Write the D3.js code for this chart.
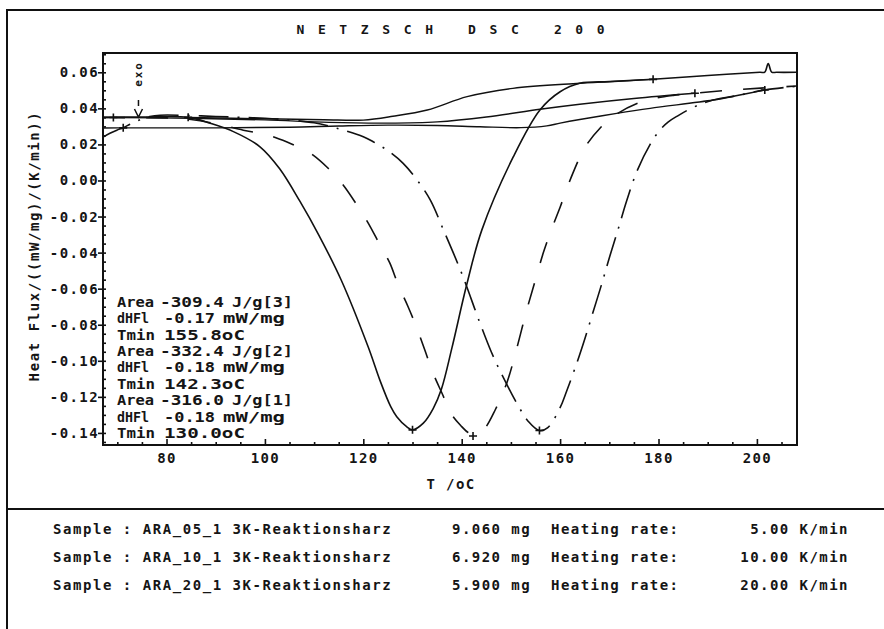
<!DOCTYPE html>
<html>
<head>
<meta charset="utf-8">
<script src="https://cdn.jsdelivr.net/npm/d3@7/dist/d3.min.js"></script>
<style>
  body { margin: 0; background: #fff; }
  svg text { font-family: "DejaVu Sans Mono", monospace; font-weight: bold; fill: #151515; }
</style>
</head>
<body>
<div id="dsc_plot"></div>
<script>

// 5 K/min run (solid line)
var t05 = [67.1, 75, 84.4, 88.9, 93.6, 99, 103, 107.1, 110.9, 115.5, 121, 123.4, 125.6, 126.8, 128.8, 130, 132.2, 134.2, 135.9, 138, 141, 144.1, 150.5, 155.9, 160, 164, 170, 178.9, 190, 200.6, 201.6, 202.3, 203.0, 204, 208.1],
  hf05 = [0.0350, 0.0352, 0.0350, 0.0317, 0.0271, 0.0187, 0.0065, -0.0115, -0.0300, -0.0552, -0.0924, -0.1110, -0.1256, -0.1310, -0.1365, -0.1383, -0.1346, -0.1265, -0.1155, -0.0930, -0.0580, -0.0274, 0.0132, 0.0391, 0.0492, 0.0539, 0.0548, 0.0561, 0.0582, 0.0600, 0.0601, 0.0648, 0.0601, 0.0600, 0.0600];

// 10 K/min run (dashed)
var t10 = [67.1, 69.2, 80, 85, 90, 95.6, 100.5, 104.5, 107.2, 109.2, 112.8, 115.9, 118.7, 121, 123.4, 125.4, 127.1, 129.1, 130.9, 132.5, 134.2, 136, 138, 140, 141.3, 142.3, 143.5, 144.7, 146.8, 149.2, 151.2, 153.2, 155, 156.6, 158, 160, 162.6, 165.1, 168.1, 171.2, 175.9, 179.7, 183, 187.4, 195, 208.1],
  hf10 = [0.0350, 0.0349, 0.0347, 0.0338, 0.0315, 0.0279, 0.0252, 0.0213, 0.0180, 0.0152, 0.0069, -0.0025, -0.0136, -0.0236, -0.0358, -0.0458, -0.0580, -0.0700, -0.0820, -0.0940, -0.1070, -0.1180, -0.1300, -0.1365, -0.1398, -0.1405, -0.1395, -0.1374, -0.1273, -0.1120, -0.0930, -0.0720, -0.0550, -0.0400, -0.0290, -0.0148, 0.0041, 0.0186, 0.0290, 0.0363, 0.0430, 0.0458, 0.0472, 0.0484, 0.0502, 0.0524];

// 20 K/min run (dash-dot)
var t20 = [67.1, 68.5, 69.9, 71.2, 72.6, 74.0, 76.6, 78.7, 85, 90, 100, 105, 110, 114.6, 120, 122, 125, 128.1, 131, 133.6, 136.3, 140, 143.7, 146, 148.5, 151.5, 153.5, 155.8, 157.5, 160, 161.3, 163.3, 165, 166.7, 168.5, 170.1, 171.8, 173.5, 175.6, 178.3, 180.3, 182, 184, 186.5, 189, 191.1, 196, 201.6, 208.1],
  hf20 = [0.0241, 0.0262, 0.0279, 0.0293, 0.0312, 0.0330, 0.0354, 0.0362, 0.0360, 0.0355, 0.0345, 0.0335, 0.0320, 0.0290, 0.0243, 0.0215, 0.0165, 0.0095, 0.0000, -0.0108, -0.0275, -0.0515, -0.0790, -0.0950, -0.1095, -0.1250, -0.1335, -0.1387, -0.1370, -0.1260, -0.1170, -0.1020, -0.0880, -0.0730, -0.0570, -0.0420, -0.0270, -0.0115, 0.0050, 0.0200, 0.0280, 0.0325, 0.0360, 0.0398, 0.0428, 0.0446, 0.0471, 0.0502, 0.0522];

// integration baselines
var bt05 = [84.4, 100, 112, 120, 126, 133, 141.1, 150.4, 164, 178.9],
  bhf05 = [0.0350, 0.0342, 0.0337, 0.0335, 0.0356, 0.0391, 0.0465, 0.0511, 0.0539, 0.0561];
var bt10 = [69.2, 85, 100, 113, 125, 135, 145, 155.9, 164, 175, 187.4],
  bhf10 = [0.0349, 0.0345, 0.0336, 0.0322, 0.0318, 0.0325, 0.0352, 0.0395, 0.0423, 0.0455, 0.0484];
var bt20 = [67.1, 71.2, 90, 105, 115, 125, 135, 143.7, 152, 157.3, 160, 164, 171.5, 178.3, 191.1, 196, 201.6],
  bhf20 = [0.0291, 0.0292, 0.0292, 0.0295, 0.0302, 0.0307, 0.0305, 0.0298, 0.0293, 0.0303, 0.0318, 0.0338, 0.0372, 0.0400, 0.0446, 0.0471, 0.0502];

// "+" marks: limits and peak minima
var markT = [69.2, 71.2, 84.4, 130.0, 142.3, 155.8, 178.9, 187.4, 201.6],
  markHF = [0.0349, 0.0292, 0.0350, -0.1383, -0.1417, -0.1387, 0.0561, 0.0484, 0.0502];

// peak evaluation text, listed top to bottom
var areaVals = ["-309.4", "-332.4", "-316.0"],
  areaRefs = ["[3]", "[2]", "[1]"],
  dhflVals = ["-0.17", "-0.18", "-0.18"],
  tminVals = ["155.8oC", "142.3oC", "130.0oC"];

// sample table
var sampleIds = ["ARA_05_1", "ARA_10_1", "ARA_20_1"],
  sampleMasses = ["9.060", "6.920", "5.900"],
  heatRates = ["5.00", "10.00", "20.00"];

// axis ticks
var xMajor = [80, 100, 120, 140, 160, 180, 200],
  xMinor = [70, 75, 85, 90, 95, 105, 110, 115, 125, 130, 135, 145, 150, 155, 165, 170, 175, 185, 190, 195, 205],
  yMajor = [0.06, 0.04, 0.02, 0.00, -0.02, -0.04, -0.06, -0.08, -0.10, -0.12, -0.14],
  yMinor = d3.range(-29, 15).map(function(i) { return i * 0.005; });

var exoT = 74.3;


var margin = {top: 53, right: 87, bottom: 184, left: 103},
  width = 884 - margin.left - margin.right,
  height = 629 - margin.top - margin.bottom;

var svg = d3.select("#dsc_plot")
  .append("svg")
  .attr("width", 884)
  .attr("height", 629);

// outer frame of the printout
svg.append("path")
  .attr("d", "M7,629 L7,10 L884,10")
  .attr("fill", "none")
  .attr("stroke", "#111")
  .attr("stroke-width", 2);
svg.append("line")
  .attr("x1", 7).attr("x2", 884)
  .attr("y1", 509).attr("y2", 509)
  .attr("stroke", "#111")
  .attr("stroke-width", 2);

svg.append("text")
  .attr("x", 452)
  .attr("y", 33.5)
  .attr("text-anchor", "middle")
  .style("white-space", "pre")
  .style("font-size", "13px")
  .style("letter-spacing", "2.9px")
  .text("N E T Z S C H   D S C   2 0 0");

var g = svg.append("g")
  .attr("transform", "translate(" + margin.left + "," + margin.top + ")");

var x = d3.scaleLinear()
  .domain([67.09, 208.15])
  .range([0, width]);
var y = d3.scaleLinear()
  .domain([-0.1467, 0.0707])
  .range([height, 0]);

var fmt = d3.formatLocale({decimal: ".", thousands: ",", grouping: [3], currency: ["", ""], minus: "-"}).format(".2f");

// axes
g.append("g")
  .attr("transform", "translate(0," + height + ")")
  .call(d3.axisBottom(x).tickValues(xMajor).tickSize(-6).tickPadding(8).tickFormat(d3.format("d")));
g.append("g")
  .attr("transform", "translate(0," + height + ")")
  .call(d3.axisBottom(x).tickValues(xMinor).tickSize(-3).tickFormat(""));
g.append("g")
  .call(d3.axisLeft(y).tickValues(yMajor).tickSize(5).tickPadding(-1).tickFormat(fmt));
g.append("g")
  .call(d3.axisRight(y).tickValues(yMinor).tickSize(3).tickFormat(""));

g.selectAll(".domain").remove();
g.selectAll(".tick line").attr("stroke", "#111").attr("stroke-width", 1.6);
g.selectAll(".tick text")
  .attr("font-family", null)
  .style("font-size", "14px")
  .style("letter-spacing", "1.4px");

g.append("rect")
  .attr("width", width)
  .attr("height", height)
  .attr("fill", "none")
  .attr("stroke", "#111")
  .attr("stroke-width", 2);

// axis labels
svg.append("text")
  .attr("x", 451)
  .attr("y", 489)
  .attr("text-anchor", "middle")
  .style("white-space", "pre")
  .style("font-size", "14px")
  .style("letter-spacing", "1.4px")
  .text("T /oC");
svg.append("text")
  .attr("text-anchor", "middle")
  .attr("transform", "translate(38.5,246)rotate(-90)")
  .style("font-size", "14px")
  .style("letter-spacing", "1.6px")
  .text("Heat Flux/((mW/mg)/(K/min))");


// curves
g.append("clipPath")
  .attr("id", "plotclip")
  .append("rect")
  .attr("width", width)
  .attr("height", height);

var line = d3.line()
  .x(function(d) { return x(d[0]); })
  .y(function(d) { return y(d[1]); })
  .curve(d3.curveCatmullRom.alpha(0.5));

var zipData = function(tt, hh) {
  return tt.map(function(t, i) { return [t, hh[i]]; });
}

var series = [
  {t: bt05, h: bhf05, dash: null, w: 1.4},
  {t: bt10, h: bhf10, dash: null, w: 1.4},
  {t: bt20, h: bhf20, dash: null, w: 1.4},
  {t: t05, h: hf05, dash: null, w: 1.6},
  {t: t10, h: hf10, dash: "22,21", w: 1.6},
  {t: t20, h: hf20, dash: "30,9,2,9", w: 1.6}
];

for (var ss in series) {
  g.append("path")
    .datum(zipData(series[ss].t, series[ss].h))
    .attr("clip-path", "url(#plotclip)")
    .attr("fill", "none")
    .attr("stroke", "#111")
    .attr("stroke-width", series[ss].w)
    .style("stroke-dasharray", series[ss].dash)
    .attr("d", line);
}

// + marks
var marks = g.append("g");
for (var mm in markT) {
  var mx = x(markT[mm]), my = y(markHF[mm]);
  marks.append("path")
    .attr("d", "M" + (mx - 4) + "," + my + "H" + (mx + 4) + "M" + mx + "," + (my - 4) + "V" + (my + 4))
    .attr("stroke", "#111")
    .attr("stroke-width", 1.6);
}

// exo arrow
var ex = x(exoT);
g.append("text")
  .attr("text-anchor", "middle")
  .attr("transform", "translate(" + (ex + 3.5) + ",21)rotate(-90)")
  .style("font-size", "11px")
  .style("letter-spacing", "1.8px")
  .text("exo");
g.append("path")
  .attr("d", "M" + ex + ",47V53M" + (ex - 4) + ",56L" + ex + ",64L" + (ex + 4) + ",56")
  .attr("fill", "none")
  .attr("stroke", "#111")
  .attr("stroke-width", 1.5);

// peak evaluation results: [text, start x, width]
var rowY = 306.8, rowStep = 16.4;
for (var pp in areaVals) {
  var base = rowY + pp * 3 * rowStep;
  var rows = [
    [["Area", 117, 37], [areaVals[pp], 160, 64], ["J/g" + areaRefs[pp], 232, 61]],
    [["dHFl", 117, 32], [dhflVals[pp], 164, 51], ["mW/mg", 223, 62]],
    [["Tmin", 117, 38], [tminVals[pp], 164, 81]]
  ];
  for (var rr in rows) {
    for (var cc in rows[rr]) {
      svg.append("text")
        .attr("x", rows[rr][cc][1])
        .attr("y", base + rr * rowStep)
        .attr("textLength", rows[rr][cc][2])
        .attr("lengthAdjust", "spacingAndGlyphs")
        .style("font-size", "14px")
        .text(rows[rr][cc][0]);
    }
  }
}

// sample table
for (var ii in sampleIds) {
  var ry = 533.5 + ii * 28;
  svg.append("text")
    .attr("x", 53).attr("y", ry)
    .style("white-space", "pre")
    .style("font-size", "14px")
    .style("letter-spacing", "1.55px")
    .text("Sample : " + sampleIds[ii] + " 3K-Reaktionsharz");
  svg.append("text")
    .attr("x", 452).attr("y", ry)
    .style("font-size", "14px")
    .style("letter-spacing", "1.45px")
    .text(sampleMasses[ii] + " mg");
  svg.append("text")
    .attr("x", 551).attr("y", ry)
    .style("font-size", "14px")
    .style("letter-spacing", "1.45px")
    .text("Heating rate:");
  svg.append("text")
    .attr("x", 849).attr("y", ry)
    .attr("text-anchor", "end")
    .style("font-size", "14px")
    .style("letter-spacing", "1.45px")
    .text(heatRates[ii] + " K/min");
}

</script>
</body>
</html>
